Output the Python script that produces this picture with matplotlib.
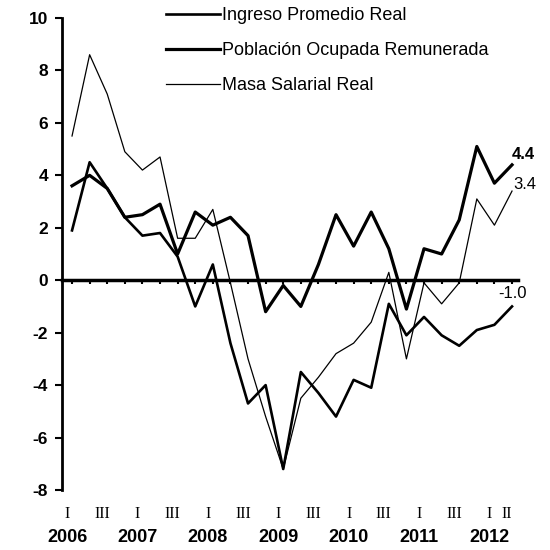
import numpy as np
import matplotlib.pyplot as plt
import matplotlib.transforms as mtransforms

plt.rcParams['font.family'] = ['Liberation Sans', 'DejaVu Sans']
plt.rcParams['axes.unicode_minus'] = False

# trimestres 2006-I a 2012-II
years = [2006, 2007, 2008, 2009, 2010, 2011, 2012]
romans = ['I', 'II', 'III', 'IV']
quarters = [(y, r) for y in years for r in romans][:26]

ingreso = [1.9, 4.5, 3.5, 2.4, 1.7, 1.8, 0.9, -1.0, 0.6, -2.4, -4.7, -4.0, -7.2,
           -3.5, -4.3, -5.2, -3.8, -4.1, -0.9, -2.1, -1.4, -2.1, -2.5, -1.9, -1.7, -1.0]
poblacion = [3.6, 4.0, 3.5, 2.4, 2.5, 2.9, 1.0, 2.6, 2.1, 2.4, 1.7, -1.2, -0.2,
             -1.0, 0.6, 2.5, 1.3, 2.6, 1.2, -1.1, 1.2, 1.0, 2.3, 5.1, 3.7, 4.4]
masa = [5.5, 8.6, 7.1, 4.9, 4.2, 4.7, 1.6, 1.6, 2.7, -0.1, -3.0, -5.2, -7.2,
        -4.5, -3.7, -2.8, -2.4, -1.6, 0.3, -3.0, -0.1, -0.9, -0.1, 3.1, 2.1, 3.4]

fig = plt.figure(figsize=(5.5, 5.5), dpi=100)
ax = fig.add_axes([62/550, 1 - 490/550, (518 - 62)/550, (490 - 18)/550])

x = np.arange(len(quarters))
l1, = ax.plot(x, ingreso, color='black', lw=1.9)
l2, = ax.plot(x, poblacion, color='black', lw=2.3)
l3, = ax.plot(x, masa, color='black', lw=0.9)

ax.set_xlim(-0.57, 25.34)
ax.set_ylim(-8, 10)

for s in ['top', 'right']:
    ax.spines[s].set_visible(False)
ax.spines['left'].set_linewidth(2)
ax.spines['bottom'].set_position(('data', 0))
ax.spines['bottom'].set_linewidth(2.5)

ax.set_xticks(x)
ax.tick_params(axis='x', direction='out', length=3, width=1.5, labelbottom=False)
ax.set_yticks(range(-8, 11, 2))
ax.tick_params(axis='y', direction='out', length=5, width=1.5, labelsize=12.5, pad=5)
for t in ax.get_yticklabels():
    t.set_fontweight('bold')

# etiquetas de trimestre y año
shift = mtransforms.ScaledTranslation(-5/100, 0, fig.dpi_scale_trans)
tr = mtransforms.blended_transform_factory(ax.transData, fig.transFigure) + shift
for i, (y, r) in enumerate(quarters):
    if r in ('I', 'III') or (y == 2012 and r == 'II'):
        ax.text(i, 1 - 514/550, r, transform=tr, ha='center', va='center',
                fontsize=11.5, family='Liberation Serif')
    if r == 'I':
        ax.text(i, 1 - 537/550, str(y), transform=tr, ha='center', va='center',
                fontsize=13, fontweight='bold')

# valores finales
ax.annotate('4.4', xy=(x[-1], poblacion[-1]), xytext=(11, 10), textcoords='offset pixels',
            ha='center', va='center', fontsize=12, fontweight='bold')
ax.annotate('3.4', xy=(x[-1], masa[-1]), xytext=(13, 7), textcoords='offset pixels',
            ha='center', va='center', fontsize=12)
ax.annotate('-1.0', xy=(x[-1], ingreso[-1]), xytext=(0, 5), textcoords='offset pixels',
            ha='center', va='bottom', fontsize=12)

fig.legend([l1, l2, l3],
           ['Ingreso Promedio Real', 'Población Ocupada Remunerada', 'Masa Salarial Real'],
           loc='upper left', bbox_to_anchor=(166/550, 1 - 7/550), frameon=False,
           fontsize=13, handlelength=3.0, handletextpad=0.1, labelspacing=1.0,
           borderaxespad=0, borderpad=0)

fig.savefig('out.png', dpi=100)
